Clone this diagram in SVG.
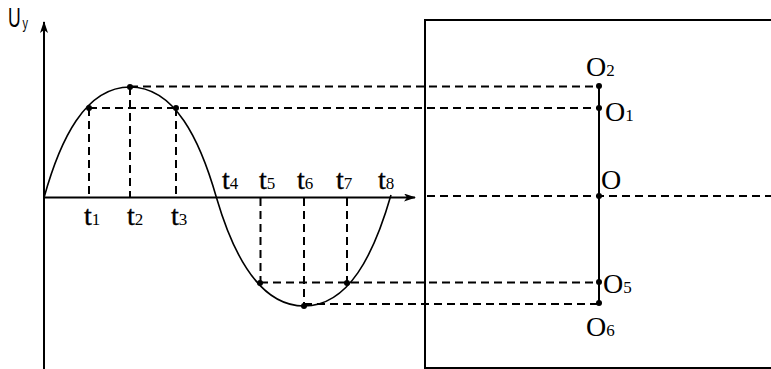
<svg xmlns="http://www.w3.org/2000/svg" width="771" height="369" viewBox="0 0 771 369">
<style>
.ax{stroke:#000;stroke-width:2;fill:none}
.crv{stroke:#000;stroke-width:1.6;fill:none}
.dash{stroke:#000;stroke-width:2;stroke-dasharray:8 5;fill:none}
.dot{fill:#000}
.tl{font-family:"Liberation Serif","Times New Roman",serif;font-size:28px;fill:#000}
.tt{stroke:#000;stroke-width:0.4}
.sub{font-size:17px;stroke-width:0}
.ul{font-family:"Liberation Sans",Arial,sans-serif;fill:#000}
</style>
<defs>
<marker id="arr" viewBox="0 0 12 8" refX="11" refY="4" markerWidth="12" markerHeight="8" markerUnits="userSpaceOnUse" orient="auto">
<path d="M0,0 L12,4 L0,8 L3,4 Z" fill="#000"/>
</marker>
</defs>
<rect width="771" height="369" fill="#fff"/>

<g id="axes">
<line class="ax" x1="44" y1="369" x2="44" y2="22" marker-end="url(#arr)"/>
<line class="ax" x1="44" y1="197.5" x2="415" y2="197.5" marker-end="url(#arr)"/>
</g>

<g id="screen">
<rect class="ax" x="425" y="20" width="400" height="348"/>
<line class="ax" x1="599" y1="86" x2="599" y2="304"/>
</g>

<g id="connectors">
<line class="dash" x1="130" y1="86.5" x2="599" y2="86.5"/>
<line class="dash" x1="89" y1="108" x2="599" y2="108"/>
<line class="dash" x1="427" y1="196" x2="771" y2="196"/>
<line class="dash" x1="260" y1="282.5" x2="599" y2="282.5"/>
<line class="dash" x1="304" y1="304" x2="599" y2="304"/>
<line class="dash" x1="89" y1="108" x2="89" y2="197"/>
<line class="dash" x1="130" y1="87" x2="130" y2="197"/>
<line class="dash" x1="176" y1="108" x2="176" y2="197"/>
<line class="dash" x1="260.5" y1="198" x2="260.5" y2="283"/>
<line class="dash" x1="304" y1="198" x2="304" y2="306"/>
<line class="dash" x1="347" y1="198" x2="347" y2="283"/>
</g>

<g id="curve">
<path class="crv" d="M44,197.7 C60,140 85,87 130,87 C175,87 200,140 216.5,197.7 C233,254 259,306 304,306 C349,306 374,254 391,195"/>
</g>

<g id="points">
<circle class="dot" cx="89" cy="108" r="3"/>
<circle class="dot" cx="130" cy="87" r="3"/>
<circle class="dot" cx="176" cy="108" r="3"/>
<circle class="dot" cx="260" cy="283" r="3"/>
<circle class="dot" cx="304" cy="306" r="3"/>
<circle class="dot" cx="347" cy="283" r="3"/>
<circle class="dot" cx="599" cy="86" r="3"/>
<circle class="dot" cx="599" cy="108" r="3"/>
<circle class="dot" cx="599" cy="196" r="3"/>
<circle class="dot" cx="599" cy="282" r="3"/>
<circle class="dot" cx="599" cy="303" r="3"/>
</g>

<g id="labels">
<text class="ul" transform="translate(8,27) scale(0.65,1)" font-size="27">U<tspan font-size="17" dx="3" dy="2">y</tspan></text>
<text class="tl tt" x="84" y="225">t<tspan class="sub">1</tspan></text>
<text class="tl tt" x="127" y="225">t<tspan class="sub">2</tspan></text>
<text class="tl tt" x="171" y="225">t<tspan class="sub">3</tspan></text>
<text class="tl tt" x="222" y="189">t<tspan class="sub">4</tspan></text>
<text class="tl tt" x="259" y="189">t<tspan class="sub">5</tspan></text>
<text class="tl tt" x="297" y="189">t<tspan class="sub">6</tspan></text>
<text class="tl tt" x="336" y="189">t<tspan class="sub">7</tspan></text>
<text class="tl tt" x="378" y="189">t<tspan class="sub">8</tspan></text>
<text class="tl" x="586" y="76">O<tspan class="sub">2</tspan></text>
<text class="tl" x="605" y="121">O<tspan class="sub">1</tspan></text>
<text class="tl" x="601" y="189">O</text>
<text class="tl" x="603" y="293">O<tspan class="sub">5</tspan></text>
<text class="tl" x="586" y="336">O<tspan class="sub">6</tspan></text>
</g>
</svg>
